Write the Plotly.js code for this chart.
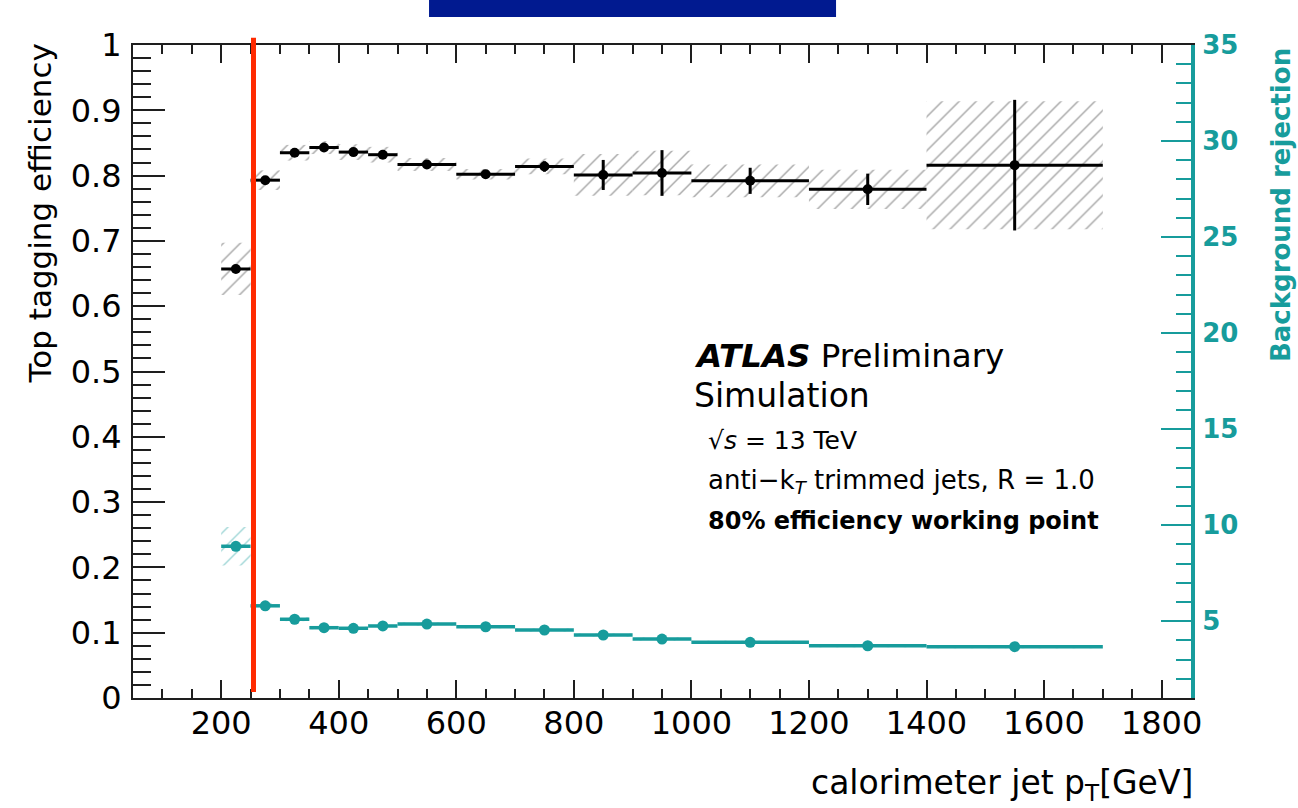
<!DOCTYPE html>
<html>
<head>
<meta charset="utf-8">
<script src="https://cdn.plot.ly/plotly-3.0.1.min.js"></script>
<style>
  html, body { margin: 0; padding: 0; background: #ffffff; }
  #chart { width: 1298px; height: 808px; }
</style>
</head>
<body>
<div id="chart"></div>
<script>
// ---- data ----
const binEdges = [200, 250, 300, 350, 400, 450, 500, 600, 700, 800, 900, 1000, 1200, 1400, 1700];
const binCenters = [225, 275, 325, 375, 425, 475, 550, 650, 750, 850, 950, 1100, 1300, 1550];

// top tagging efficiency (left axis)
const efficiency    = [0.657, 0.793, 0.835, 0.843, 0.836, 0.832, 0.817, 0.802, 0.814, 0.801, 0.804, 0.792, 0.779, 0.816];
const efficiencyStat = [0.005, 0.005, 0.004, 0.004, 0.004, 0.004, 0.005, 0.006, 0.008, 0.023, 0.035, 0.020, 0.024, 0.100];
const efficiencySyst = [0.040, 0.015, 0.012, 0.010, 0.012, 0.012, 0.010, 0.008, 0.012, 0.032, 0.034, 0.025, 0.030, 0.098];

// background rejection (right axis)
const rejection     = [8.9, 5.8, 5.1, 4.66, 4.63, 4.75, 4.85, 4.71, 4.54, 4.28, 4.07, 3.90, 3.72, 3.67];
const rejectionStat = [0.10, 0.06, 0.05, 0.05, 0.05, 0.05, 0.05, 0.05, 0.05, 0.05, 0.05, 0.05, 0.05, 0.05];
const rejectionSyst = [1.0, 0.15, 0.10, 0.08, 0.08, 0.08, 0.08, 0.08, 0.08, 0.08, 0.08, 0.08, 0.08, 0.08];

const xTickValues = [200, 400, 600, 800, 1000, 1200, 1400, 1600, 1800];
const workingPointCut = 255;

// ---- derived from the bin edges ----
const binWidths = binCenters.map((c, i) => binEdges[i + 1] - binEdges[i]);
const halfWidths = binWidths.map(w => w / 2);

const TEAL = '#179c9c';
const FRAME = '#1e1e1e';
const FONT = 'DejaVu Sans';

const traces = [
  { // efficiency systematic band (hatched)
    type: 'bar', x: binCenters, width: binWidths,
    base: efficiency.map((v, i) => v - efficiencySyst[i]),
    y: efficiencySyst.map(s => 2 * s),
    marker: { color: 'rgba(0,0,0,0)', line: { width: 0 },
      pattern: { shape: '/', fgcolor: '#a8a8a8', bgcolor: 'rgba(0,0,0,0)', size: 12, solidity: 0.12 } },
    yaxis: 'y', hoverinfo: 'skip', showlegend: false
  },
  { // rejection systematic band (hatched)
    type: 'bar', x: binCenters, width: binWidths,
    base: rejection.map((v, i) => v - rejectionSyst[i]),
    y: rejectionSyst.map(s => 2 * s),
    marker: { color: 'rgba(0,0,0,0)', line: { width: 0 },
      pattern: { shape: '/', fgcolor: '#a3d8d8', bgcolor: 'rgba(0,0,0,0)', size: 12, solidity: 0.12 } },
    yaxis: 'y2', hoverinfo: 'skip', showlegend: false
  },
  { // efficiency points
    type: 'scatter', mode: 'markers', x: binCenters, y: efficiency,
    marker: { color: '#000000', size: 10, symbol: 'circle' },
    error_x: { type: 'data', array: halfWidths, thickness: 3, width: 0, color: '#000000' },
    error_y: { type: 'data', array: efficiencyStat, thickness: 3, width: 0, color: '#000000' },
    yaxis: 'y', showlegend: false
  },
  { // rejection points
    type: 'scatter', mode: 'markers', x: binCenters, y: rejection,
    marker: { color: TEAL, size: 11, symbol: 'circle' },
    error_x: { type: 'data', array: halfWidths, thickness: 3.5, width: 0, color: TEAL },
    error_y: { type: 'data', array: rejectionStat, thickness: 3, width: 0, color: TEAL },
    yaxis: 'y2', showlegend: false
  }
];

const layout = {
  width: 1298, height: 808,
  margin: { l: 133, r: 107, t: 45, b: 110, pad: 0 },
  paper_bgcolor: '#ffffff', plot_bgcolor: '#ffffff',
  font: { family: FONT, color: '#000000' },
  barmode: 'overlay',
  showlegend: false,
  xaxis: {
    range: [50, 1850], tickmode: 'array', tickvals: xTickValues,
    ticks: 'inside', ticklen: 18, tickwidth: 2, tickcolor: FRAME,
    minor: { dtick: 50, tick0: 0, ticks: 'inside', ticklen: 9, tickwidth: 2, tickcolor: FRAME, showgrid: false },
    showline: true, linecolor: FRAME, linewidth: 2, mirror: 'ticks',
    showgrid: false, zeroline: false,
    tickfont: { family: FONT, size: 32, color: '#000000' },
    ticklabelstandoff: -4
  },
  yaxis: {
    range: [0, 1], tickmode: 'linear', tick0: 0, dtick: 0.1,
    ticks: 'inside', ticklen: 32, tickwidth: 2, tickcolor: FRAME,
    minor: { dtick: 0.02, tick0: 0, ticks: 'inside', ticklen: 18, tickwidth: 2, tickcolor: FRAME, showgrid: false },
    showline: true, linecolor: FRAME, linewidth: 2, mirror: false,
    showgrid: false, zeroline: false,
    tickfont: { family: FONT, size: 32, color: '#000000' },
    ticklabelstandoff: 3
  },
  yaxis2: {
    overlaying: 'y', side: 'right',
    range: [1, 35], tickmode: 'linear', tick0: 0, dtick: 5,
    ticks: 'inside', ticklen: 30, tickwidth: 2, tickcolor: TEAL,
    minor: { dtick: 1, tick0: 0, ticks: 'inside', ticklen: 15, tickwidth: 2, tickcolor: TEAL, showgrid: false },
    showline: true, linecolor: TEAL, linewidth: 4,
    showgrid: false, zeroline: false,
    tickfont: { family: FONT, size: 26, color: TEAL, weight: 'bold' },
    ticklabelstandoff: 2
  },
  shapes: [
    { // banner box at the top
      type: 'rect', xref: 'paper', yref: 'paper',
      x0: 0.2798, x1: 0.6645, y0: 1.0429, y1: 1.08,
      fillcolor: '#011a90', line: { width: 0 }, layer: 'above'
    },
    { // working point cut line
      type: 'line', xref: 'x', yref: 'paper',
      x0: workingPointCut, x1: workingPointCut, y0: 0.009, y1: 1.011,
      line: { color: '#ff2a00', width: 5 }, layer: 'above'
    }
  ],
  annotations: [
    { text: 'Top tagging efficiency', xref: 'paper', yref: 'paper', x: -0.087, y: 0.742,
      xanchor: 'center', yanchor: 'middle', textangle: -90, showarrow: false,
      font: { family: FONT, size: 31, color: '#000000' } },
    { text: '<b>Background rejection</b>', xref: 'paper', yref: 'paper', x: 1.0851, y: 0.755,
      xanchor: 'center', yanchor: 'middle', textangle: -90, showarrow: false,
      font: { family: FONT, size: 26, color: TEAL } },
    { text: 'calorimeter jet p<sub>T</sub>[GeV]', xref: 'paper', yref: 'paper', x: 1.0038, y: -0.133,
      xanchor: 'right', yanchor: 'middle', showarrow: false,
      font: { family: FONT, size: 33, color: '#000000' } },
    { text: '<b><i>ATLAS</i></b> <span style="font-size:32.5px">Preliminary</span>', xref: 'x', yref: 'y',
      x: 1001, y: 0.5237, xanchor: 'left', yanchor: 'middle', showarrow: false,
      font: { family: FONT, size: 32.5, color: '#000000' } },
    { text: 'Simulation', xref: 'x', yref: 'y',
      x: 1001, y: 0.4625, xanchor: 'left', yanchor: 'middle', showarrow: false,
      font: { family: FONT, size: 33, color: '#000000' } },
    { text: '√<i>s</i> = 13 TeV', xref: 'x', yref: 'y',
      x: 1025, y: 0.3951, xanchor: 'left', yanchor: 'middle', showarrow: false,
      font: { family: FONT, size: 25, color: '#000000' } },
    { text: 'anti−k<sub><i>T</i></sub> trimmed jets, R = 1.0', xref: 'x', yref: 'y',
      x: 1025, y: 0.3315, xanchor: 'left', yanchor: 'middle', showarrow: false,
      font: { family: FONT, size: 26, color: '#000000' } },
    { text: '<b>80% efficiency working point</b>', xref: 'x', yref: 'y',
      x: 1025, y: 0.2710, xanchor: 'left', yanchor: 'middle', showarrow: false,
      font: { family: FONT, size: 24, color: '#000000' } }
  ]
};

Plotly.newPlot('chart', traces, layout, { displayModeBar: false, staticPlot: true });
</script>
</body>
</html>
